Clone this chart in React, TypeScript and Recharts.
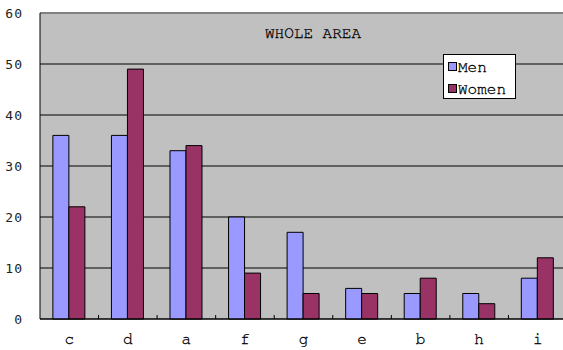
import { BarChart, Bar, XAxis, YAxis, CartesianGrid, ReferenceLine } from "recharts";

const categories = ["c", "d", "a", "f", "g", "e", "b", "h", "i"];
const men = [36, 36, 33, 20, 17, 6, 5, 5, 8];
const women = [22, 49, 34, 9, 5, 5, 8, 3, 12];
const yTicks = [0, 10, 20, 30, 40, 50, 60];

const data = categories.map((name, i) => ({ name, men: men[i], women: women[i] }));

const MONO = "FreeMono, Courier New, monospace";
const PLOT_W = 527;
const BAND = PLOT_W / categories.length;

const CategoryTick = (props: any) => {
  const { x, y, payload } = props;
  return (
    <g>
      <line x1={x + BAND / 2} y1={y - 8} x2={x + BAND / 2} y2={y - 12} stroke="#000" />
      <text
        x={x}
        y={y + 17}
        textAnchor="middle"
        fontFamily={MONO}
        fontSize={16}
        fill="#000"
        stroke="#000"
        strokeWidth={0.3}
      >
        {payload.value}
      </text>
    </g>
  );
};

const series = [
  { label: "Men", color: "#9999ff" },
  { label: "Women", color: "#993366" },
];

export default function App() {
  return (
    <div style={{ position: "absolute", left: 0, top: 0, width: 567, height: 350, background: "#fff" }}>
      <BarChart
        width={567}
        height={350}
        data={data}
        margin={{ top: 13, right: 0, bottom: 0, left: 0 }}
        barCategoryGap="22%"
        barGap={0}
      >
        <CartesianGrid vertical={false} stroke="#000" strokeOpacity={1} fill="#c0c0c0" fillOpacity={1} />
        <XAxis
          dataKey="name"
          height={31}
          axisLine={{ stroke: "#000" }}
          tickLine={false}
          tick={<CategoryTick />}
          interval={0}
        />
        <YAxis
          width={40}
          domain={[0, 60]}
          ticks={yTicks}
          axisLine={{ stroke: "#000" }}
          tickLine={false}
          tick={{ fontFamily: "DejaVu Sans Mono, monospace", fontSize: 13, fill: "#222", letterSpacing: 1 }}
          tickMargin={11}
        />
        <ReferenceLine y={60} stroke="#808080" strokeWidth={2} />
        <Bar dataKey="men" name="Men" fill="#9999ff" stroke="#000" strokeWidth={1} isAnimationActive={false} />
        <Bar dataKey="women" name="Women" fill="#993366" stroke="#000" strokeWidth={1} isAnimationActive={false} />
      </BarChart>
      <div
        style={{
          position: "absolute",
          left: 265,
          top: 25,
          fontFamily: MONO,
          fontSize: 16,
          color: "#000",
          whiteSpace: "nowrap",
          WebkitTextStroke: "0.3px #000",
        }}
      >
        WHOLE AREA
      </div>
      <div
        style={{
          position: "absolute",
          left: 443,
          top: 54,
          width: 73,
          height: 45,
          background: "#fff",
          border: "1px solid #000",
          fontFamily: MONO,
          fontSize: 16,
          color: "#000",
          boxSizing: "border-box",
          paddingTop: 2,
          WebkitTextStroke: "0.3px #000",
        }}
      >
        {series.map((it) => (
          <div key={it.label} style={{ display: "flex", alignItems: "center", height: 19, marginBottom: 3 }}>
            <span
              style={{
                display: "inline-block",
                width: 7,
                height: 7,
                background: it.color,
                border: "1px solid #000",
                marginLeft: 4,
                marginRight: 1,
              }}
            />
            {it.label}
          </div>
        ))}
      </div>
    </div>
  );
}
